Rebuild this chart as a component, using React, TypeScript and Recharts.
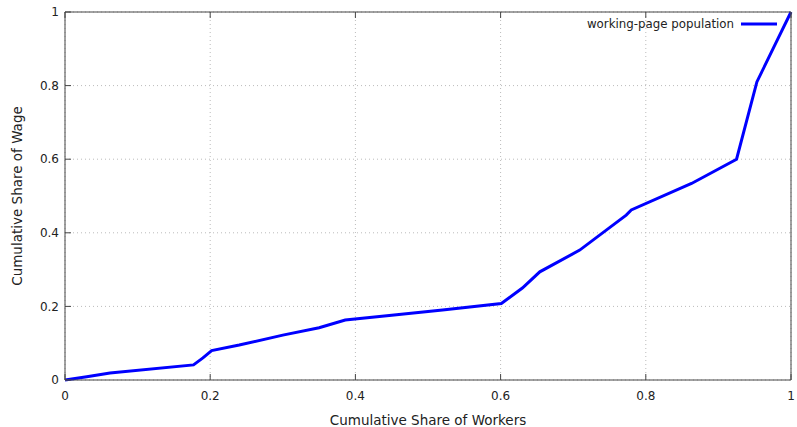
import React from "react";
import { LineChart, Line, XAxis, YAxis, CartesianGrid, Legend } from "recharts";

const shareWorkers = [0, 0.03, 0.062, 0.177, 0.19, 0.202, 0.24, 0.3, 0.35, 0.386, 0.45, 0.52, 0.601, 0.63, 0.654, 0.709, 0.746, 0.773, 0.78, 0.863, 0.925, 0.953, 0.976, 1];
const shareWage = [0, 0.009, 0.019, 0.041, 0.06, 0.08, 0.095, 0.122, 0.142, 0.163, 0.176, 0.19, 0.208, 0.25, 0.294, 0.353, 0.408, 0.448, 0.462, 0.534, 0.6, 0.81, 0.903, 1];
const ticks = [0, 0.2, 0.4, 0.6, 0.8, 1];
const tickLabels = ["0", "0.2", "0.4", "0.6", "0.8", "1"];
const seriesName = "working-page population";

const data = shareWorkers.map((x, i) => ({ x, y: shareWage[i] }));

const FONT = "'DejaVu Sans', sans-serif";
const AXIS = "#444";
const fmt = (v: number) => tickLabels[ticks.indexOf(v)] ?? String(v);

const LegendContent = () => (
  <div style={{ display: "flex", alignItems: "center", justifyContent: "flex-end", fontFamily: FONT, fontSize: 11.8, color: "#222" }}>
    <span>{seriesName}</span>
    <svg width={44} height={10} style={{ marginLeft: 6 }}>
      <line x1={1} y1={5} x2={37} y2={5} stroke="#0000ff" strokeWidth={3} />
    </svg>
  </div>
);

export default function App() {
  return (
    <div style={{ position: "absolute", left: 0, top: 0, width: 797, height: 427, background: "#fff" }}>
      <LineChart width={797} height={427} data={data} margin={{ top: 11, right: 5, left: 0, bottom: 0 }}>
        <CartesianGrid xAxisId="b" yAxisId="l" stroke="#bbb" strokeDasharray="1 3" />
        <XAxis
          xAxisId="b"
          dataKey="x"
          type="number"
          domain={[0, 1]}
          ticks={ticks}
          tickFormatter={fmt}
          orientation="bottom"
          height={47}
          tickSize={-6}
          tickMargin={17}
          stroke={AXIS}
          tick={{ fill: "#222", fontFamily: FONT, fontSize: 12 }}
          label={{
            content: ({ viewBox }: any) => (
              <text x={viewBox.x + viewBox.width / 2} y={425} textAnchor="middle" fontFamily={FONT} fontSize={13.5} fill="#222">
                Cumulative Share of Workers
              </text>
            ),
          }}
        />
        <XAxis
          xAxisId="t"
          dataKey="x"
          type="number"
          domain={[0, 1]}
          ticks={ticks}
          orientation="top"
          height={1}
          tickSize={-6}
          stroke={AXIS}
          tick={() => <g />}
        />
        <YAxis
          yAxisId="l"
          type="number"
          domain={[0, 1]}
          ticks={ticks}
          tickFormatter={fmt}
          width={65}
          tickSize={-6}
          tickMargin={12}
          stroke={AXIS}
          tick={{ fill: "#222", fontFamily: FONT, fontSize: 12 }}
          label={{
            content: () => (
              <text
                x={0}
                y={0}
                transform={`translate(22, ${196}) rotate(-90)`}
                textAnchor="middle"
                fontFamily={FONT}
                fontSize={13.5}
                fill="#222"
              >
                Cumulative Share of Wage
              </text>
            ),
          }}
        />
        <YAxis
          yAxisId="r"
          orientation="right"
          type="number"
          domain={[0, 1]}
          ticks={ticks}
          width={1}
          tickSize={-6}
          stroke={AXIS}
          tick={() => <g />}
        />
        <Legend
          verticalAlign="middle"
          layout="horizontal"
          wrapperStyle={{ top: 17, left: 484, width: 300, height: 20 }}
          content={() => <LegendContent />}
        />
        <Line
          xAxisId="b"
          yAxisId="l"
          dataKey="y"
          name={seriesName}
          type="linear"
          stroke="#0000ff"
          strokeWidth={3}
          dot={false}
          isAnimationActive={false}
        />
      </LineChart>
    </div>
  );
}
